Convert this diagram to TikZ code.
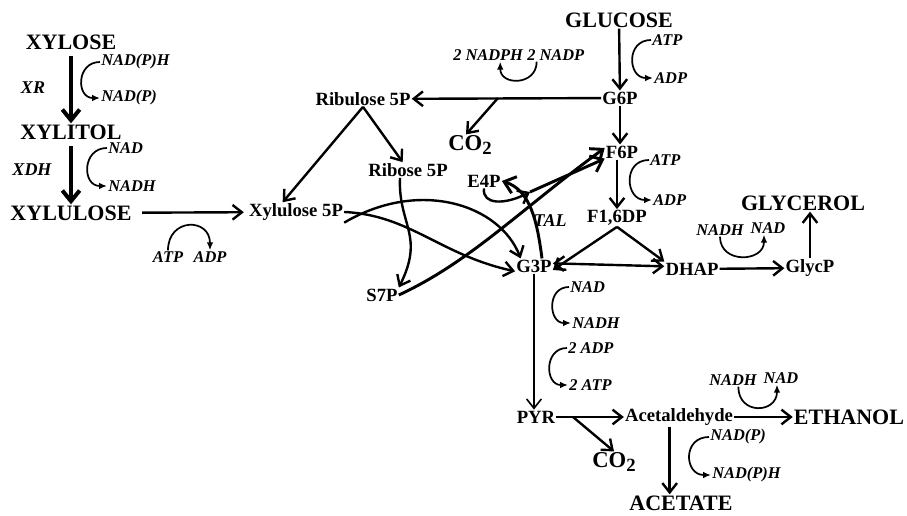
\documentclass[tikz,border=0pt]{standalone}
\usepackage{fontspec}
\setmainfont{Liberation Serif}
\usetikzlibrary{arrows.meta}

\begin{document}
\begin{tikzpicture}[x=0.75pt,y=0.75pt,yscale=-1,xscale=1,
    big/.style={inner sep=0.75pt,font=\fontsize{16.5}{18}\selectfont\bfseries},
    mid/.style={inner sep=0.75pt,font=\fontsize{14}{16}\selectfont\bfseries},
    cof/.style={inner sep=0.75pt,font=\fontsize{12.3}{14}\selectfont\bfseries\itshape},
    enz/.style={inner sep=0.75pt,font=\fontsize{13.5}{15}\selectfont\bfseries\itshape},
    gas/.style={inner sep=0.75pt,font=\fontsize{17}{19}\selectfont\bfseries},
    flux/.style={line width=1.8pt,-{Straight Barb[length=7pt,width=11pt]}},
    thin/.style={line width=1.2pt,-{Straight Barb[length=7pt,width=11pt]}},
    heavy/.style={line width=3pt,-{Straight Barb[length=8pt,width=13pt]}},
    cofarr/.style={line width=1.3pt,-{Latex[length=6pt,width=5pt]}}]
                \useasboundingbox (0,0) rectangle (907,516);
                \node[big] (xylose) at (71,42) {XYLOSE};
                \node[big] (xylitol) at (71,132) {XYLITOL};
                \node[big] (xylulose) at (71,213) {XYLULOSE};
                \node[enz] (xr) at (33,88) {XR};
                \node[enz] (xdh) at (32,170) {XDH};
                \node[cof,anchor=west] (nadphA) at (100,62) {NAD(P)H};
                \node[cof,anchor=west] (nadpA) at (100,98) {NAD(P)};
                \node[cof,anchor=west] (nadA) at (107,148) {NAD};
                \node[cof,anchor=west] (nadhA) at (107,186) {NADH};
                \node[cof] (atpA) at (168,257) {ATP};
                \node[cof] (adpA) at (210,257) {ADP};
                \node[mid] (x5p) at (296,212) {Xylulose 5P};
                \node[mid] (ru5p) at (363,99) {Ribulose 5P};
                \node[mid] (r5p) at (408,170) {Ribose 5P};
                \node[gas] (co2a) at (470,145) {CO\raisebox{-0.35ex}{\fontsize{14}{16}\selectfont 2}};
                \node[cof,anchor=west] (nadphB) at (452,55) {2 NADPH};
                \node[cof,anchor=west] (nadpB) at (526,55) {2 NADP};
                \node[big] (glucose) at (619,20) {GLUCOSE};
                \node[cof,anchor=west] (atpB) at (651,40) {ATP};
                \node[cof,anchor=west] (adpB) at (653,78) {ADP};
                \node[mid] (g6p) at (620,98) {G6P};
                \node[mid] (f6p) at (622,152) {F6P};
                \node[cof,anchor=west] (atpC) at (649,160) {ATP};
                \node[cof,anchor=west] (adpC) at (652,200) {ADP};
                \node[mid] (f16dp) at (617,218) {F1,6DP};
                \node[mid] (e4p) at (484,181) {E4P};
                \node[enz] (tal) at (550,221) {TAL};
                \node[mid] (s7p) at (382,295) {S7P};
                \node[mid] (g3p) at (534,266) {G3P};
                \node[mid] (dhap) at (692,269) {DHAP};
                \node[mid] (glycp) at (810,268) {GlycP};
                \node[big] (glycerol) at (803,203) {GLYCEROL};
                \node[cof] (nadhB) at (720,230) {NADH};
                \node[cof] (nadB) at (768,228) {NAD};
                \node[cof,anchor=west] (nadC) at (569,287) {NAD};
                \node[cof,anchor=west] (nadhC) at (571,323) {NADH};
                \node[cof,anchor=west] (adpD) at (567,348) {2 ADP};
                \node[cof,anchor=west] (atpD) at (568,385) {2 ATP};
                \node[mid] (pyr) at (536,417) {PYR};
                \node[gas] (co2b) at (614,462) {CO\raisebox{-0.35ex}{\fontsize{14}{16}\selectfont 2}};
                \node[mid] (acald) at (679,417) {Acetaldehyde};
                \node[big] (ethanol) at (849,417) {ETHANOL};
                \node[cof] (nadhE) at (733,380) {NADH};
                \node[cof] (nadE) at (781,378) {NAD};
                \node[cof,anchor=west] (nadpF) at (709,437) {NAD(P)};
                \node[cof,anchor=west] (nadphF) at (711,475) {NAD(P)H};
                \node[big] (acetate) at (681,503) {ACETATE};
                \coordinate (brA) at (498,98);
                \coordinate (brB) at (573,417);
                \coordinate (brC) at (530,192);
                \draw[heavy,shorten <=4pt] (xylose) -- (xylitol);
                \draw[heavy,shorten <=4pt] (xylitol) -- (xylulose);
                \draw[cofarr] (nadphA.west) to[out=180,in=180,looseness=1.7] (nadpA.west);
                \draw[cofarr] (nadA.west) to[out=180,in=180,looseness=1.7] (nadhA.west);
                \draw[flux,shorten <=7pt,shorten >=3pt] (xylulose) -- (x5p);
                \draw[cofarr] (atpA.north) to[out=-90,in=-90,looseness=2] (adpA.north);
                \draw[flux] (g6p) -- (ru5p);
                \draw[flux] (brA) -- ([xshift=-3pt]co2a.north);
                \draw[cofarr] ([xshift=8pt]nadpB.south west) to[out=90,in=90,looseness=1.7] ([xshift=-18pt]nadphB.south east);
                \draw[flux] (glucose) -- (g6p);
                \draw[cofarr] (atpB.west) to[out=180,in=180,looseness=1.7] (adpB.west);
                \draw[flux] (g6p.south) -- (g6p.south |- f6p.north);
                \draw[cofarr] (atpC.west) to[out=180,in=180,looseness=1.7] (adpC.west);
                \draw[flux] (f16dp.south |- f6p.south) -- (f16dp.north);
                \draw[flux] (ru5p.south) -- ([xshift=-10pt]x5p.north);
                \draw[flux] (ru5p.south) -- ([xshift=-4pt]r5p.north);
                \draw[flux] ([yshift=8pt]x5p.east) .. controls (420,178) and (500,205) .. ([xshift=-10pt]g3p.north);
                \draw[flux] (x5p.east) .. controls (410,215) and (440,255) .. ([yshift=4pt]g3p.west);
                \draw[flux] ([xshift=-6pt]r5p.south) .. controls (398,225) and (425,235) .. (s7p.north east);
                \draw[heavy,line width=2.2pt] (s7p.east) .. controls (470,262) and (520,210) .. ([yshift=-3pt]f6p.west);
                \draw[flux] (e4p.south) .. controls (482,205) and (505,205) .. (brC);
                \draw[heavy,line width=2.2pt] (brC) -- ([yshift=5pt]f6p.west);
                \draw[heavy,line width=2.2pt] ([xshift=6pt]g3p.north) .. controls (537,220) and (530,190) .. (e4p.east);
                \draw[flux] (f16dp.south) -- ([yshift=3pt]g3p.east);
                \draw[flux] (f16dp.south) -- (dhap.north west);
                \draw[flux,{Straight Barb[length=7pt,width=11pt]}-{Straight Barb[length=7pt,width=11pt]}] ([yshift=-2pt]g3p.east) -- ([yshift=-2pt]dhap.west);
                \draw[flux] (dhap) -- (glycp);
                \draw[flux] (glycp.north) -- (glycp.north |- glycerol.south);
                \draw[cofarr] (nadhB.south) to[out=90,in=90,looseness=1.6] ([xshift=-3pt]nadB.south);
                \draw[thin] (g3p.south) -- (g3p.south |- pyr.north);
                \draw[cofarr] (nadC.west) to[out=180,in=180,looseness=1.6] (nadhC.west);
                \draw[cofarr] (adpD.west) to[out=180,in=180,looseness=1.6] (atpD.west);
                \draw[flux] (pyr) -- (acald);
                \draw[flux] (brB) -- (co2b.north);
                \draw[flux] (acald) -- (ethanol);
                \draw[cofarr] ([xshift=4pt]nadhE.south) to[out=90,in=90,looseness=1.9] ([xshift=-3pt]nadE.south);
                \draw[flux] ([xshift=-7pt]acald.south) -- ([xshift=-7pt]acald.south |- acetate.north);
                \draw[cofarr] (nadpF.west) to[out=180,in=180,looseness=1.8] (nadphF.west);
\end{tikzpicture}
\end{document}
